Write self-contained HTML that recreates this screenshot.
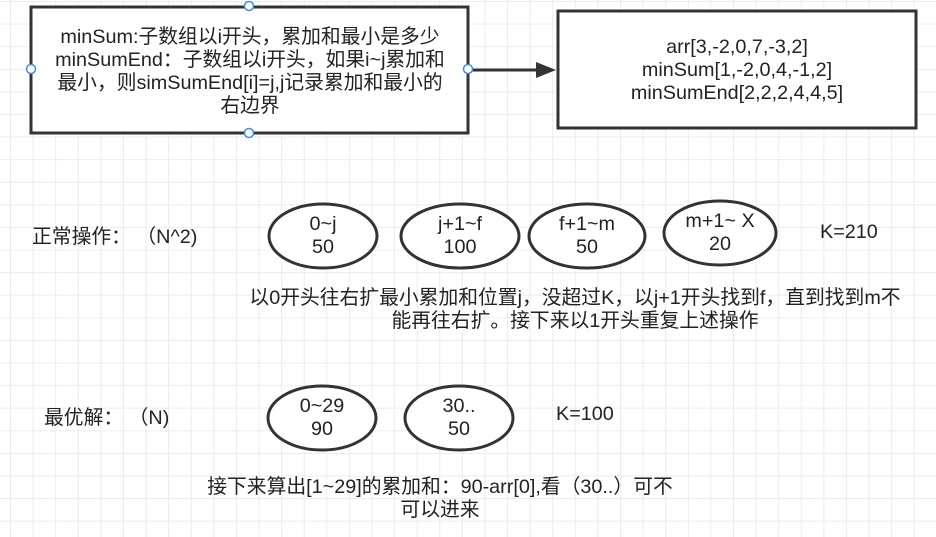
<!DOCTYPE html><html><head><style>
body{margin:0;width:936px;height:537px;overflow:hidden;background:#fff;font-family:"Liberation Sans","Noto Sans CJK SC",sans-serif;color:#222;
background-image:linear-gradient(#ececec 1px,transparent 1px),linear-gradient(90deg,#ececec 1px,transparent 1px);background-size:22.6px 22.6px;background-position:10px 1px;}
.a{position:absolute;}
.t{position:absolute;text-align:center;font-size:19.8px;line-height:23px;white-space:nowrap;}
</style></head><body>
<svg class="a" style="left:0;top:0" width="936" height="537">
<rect x="31" y="7" width="437" height="126" fill="#fff" stroke="#333" stroke-width="3"/>
<rect x="558" y="11" width="358" height="117" fill="#fff" stroke="#333" stroke-width="3"/>
<line x1="468" y1="70" x2="540" y2="70" stroke="#333" stroke-width="3"/>
<polygon points="556,70 536,62 536,78" fill="#333"/>
<g fill="#fff" stroke="#3a8ee6" stroke-width="1.5">
<circle cx="249" cy="6" r="4.5"/><circle cx="249" cy="133" r="4.5"/><circle cx="31" cy="69" r="4.5"/><circle cx="468" cy="69" r="4.5"/></g>
<g fill="#fff" stroke="#333" stroke-width="3">
<ellipse cx="323" cy="236" rx="54" ry="32"/>
<ellipse cx="460" cy="236" rx="59" ry="32"/>
<ellipse cx="587" cy="236" rx="58" ry="32"/>
<ellipse cx="720" cy="233" rx="56" ry="32"/>
<ellipse cx="322" cy="418" rx="54" ry="32"/>
<ellipse cx="459" cy="418" rx="54" ry="32"/>
</g></svg>
<div class="t" style="left:40px;top:26px;width:420px;">minSum:子数组以i开头，累加和最小是多少<br>minSumEnd：子数组以i开头，如果i~j累加和<br>最小，则simSumEnd[i]=j,j记录累加和最小的<br>右边界</div>
<div class="t" style="left:560px;top:36px;width:354px;">arr[3,-2,0,7,-3,2]<br>minSum[1,-2,0,4,-1,2]<br>minSumEnd[2,2,2,4,4,5]</div>
<div class="t" style="left:32px;top:226px;text-align:left;">正常操作：&nbsp;（N^2)</div>
<div class="t" style="left:283px;top:213px;width:80px;">0~j<br>50</div>
<div class="t" style="left:410px;top:213px;width:100px;">j+1~f<br>100</div>
<div class="t" style="left:537px;top:213px;width:100px;">f+1~m<br>50</div>
<div class="t" style="left:670px;top:210px;width:100px;">m+1~ X<br>20</div>
<div class="t" style="left:820px;top:221px;text-align:left;">K=210</div>
<div class="t" style="left:235px;top:287px;width:680px;">以0开头往右扩最小累加和位置j，没超过K，以j+1开头找到f，直到找到m不<br>能再往右扩。接下来以1开头重复上述操作</div>
<div class="t" style="left:44px;top:407px;text-align:left;">最优解：&nbsp;（N)</div>
<div class="t" style="left:282px;top:395px;width:80px;">0~29<br>90</div>
<div class="t" style="left:419px;top:395px;width:80px;">30..<br>50</div>
<div class="t" style="left:556px;top:403px;text-align:left;">K=100</div>
<div class="t" style="left:190px;top:476px;width:500px;">接下来算出[1~29]的累加和：90-arr[0],看（30..）可不<br>可以进来</div>
</body></html>
